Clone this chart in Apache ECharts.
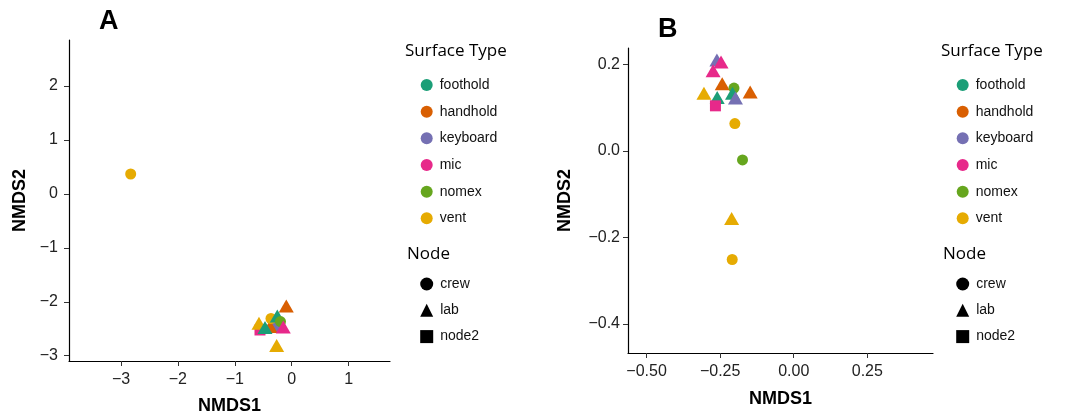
<!DOCTYPE html>
<html><head><meta charset="utf-8">
<script src="https://cdn.jsdelivr.net/npm/echarts@6/dist/echarts.min.js"></script>
<style>html,body{margin:0;padding:0;background:#fff}#c{width:1070px;height:413px}</style>
</head><body><div id="c"></div>
<script>
// ---- categories ----
const surfaceTypes = ['foothold', 'handhold', 'keyboard', 'mic', 'nomex', 'vent'];
const nodeTypes = ['crew', 'lab', 'node2'];

// ---- panel A (NMDS with outlier) ----
const aNMDS1 = [-2.83, -0.30, -0.20, -0.38, -0.095, -0.557, -0.575, -0.364, -0.253, -0.197, -0.469, -0.148, -0.264];
const aNMDS2 = [0.369, -2.40, -2.44, -2.458, -2.078, -2.523, -2.399, -2.31, -2.264, -2.366, -2.477, -2.468, -2.811];
const aSurface = ['vent', 'keyboard', 'keyboard', 'handhold', 'handhold', 'mic', 'vent', 'vent', 'foothold', 'nomex', 'foothold', 'mic', 'vent'];
const aNode = ['crew', 'lab', 'lab', 'lab', 'lab', 'node2', 'lab', 'crew', 'lab', 'crew', 'lab', 'lab', 'lab'];

// ---- panel B ----
const bNMDS1 = [-0.261, -0.247, -0.274, -0.243, -0.203, -0.148, -0.305, -0.260, -0.208, -0.198, -0.266, -0.200, -0.174, -0.211, -0.209];
const bNMDS2 = [0.210, 0.205, 0.185, 0.155, 0.145, 0.136, 0.133, 0.123, 0.133, 0.122, 0.104, 0.063, -0.021, -0.156, -0.251];
const bSurface = ['keyboard', 'mic', 'mic', 'handhold', 'nomex', 'handhold', 'vent', 'foothold', 'foothold', 'keyboard', 'mic', 'vent', 'nomex', 'vent', 'vent'];
const bNode = ['lab', 'lab', 'lab', 'lab', 'crew', 'lab', 'lab', 'lab', 'lab', 'lab', 'node2', 'crew', 'crew', 'lab', 'crew'];

// ---- tick labels ----
const aTicksX = [-3, -2, -1, 0, 1];
const aTicksY = [-3, -2, -1, 0, 1, 2];
const bTicksX = [-0.5, -0.25, 0, 0.25];
const bTicksY = [-0.4, -0.2, 0, 0.2];

// ---- styles ----
const palette = {foothold: '#1B9E77', handhold: '#D95F02', keyboard: '#7570B3', mic: '#E7298A', nomex: '#66A61E', vent: '#E6AB02'};
const nodeSymbol = {crew: 'circle', lab: 'triangle', node2: 'rect'};
const nodeSize = {crew: 11, lab: [15, 13], node2: 11};
const FONT = 'Liberation Sans';

function fmt(d) {
  return v => (v < 0 ? '\u2212' : '') + Math.abs(v).toFixed(d);
}
function points(xs, ys, surf, node) {
  return xs.map((x, i) => ({
    value: [x, ys[i]],
    symbol: nodeSymbol[node[i]],
    symbolSize: nodeSize[node[i]],
    itemStyle: {color: palette[surf[i]], opacity: 1}
  }));
}
function xAxisCfg(idx, min, max, ticks, dec, gap) {
  return {
    type: 'value', gridIndex: idx, min: min, max: max,
    name: 'NMDS1', nameLocation: 'middle', nameGap: gap,
    nameTextStyle: {fontFamily: FONT, fontWeight: 'bold', fontSize: 18, color: '#000'},
    splitLine: {show: false},
    axisLine: {onZero: false, lineStyle: {color: '#000', width: 1.2}},
    axisTick: {customValues: ticks, length: 5, lineStyle: {color: '#333', width: 1}},
    axisLabel: {customValues: ticks, formatter: fmt(dec), fontFamily: FONT, fontSize: 16, color: '#222', margin: 11}
  };
}
function yAxisCfg(idx, min, max, ticks, dec, gap, margin) {
  return {
    type: 'value', gridIndex: idx, min: min, max: max,
    name: 'NMDS2', nameLocation: 'middle', nameGap: gap,
    nameTextStyle: {fontFamily: FONT, fontWeight: 'bold', fontSize: 18, color: '#000'},
    splitLine: {show: false},
    axisLine: {onZero: false, lineStyle: {color: '#000', width: 1.2}},
    axisTick: {customValues: ticks, length: 5, lineStyle: {color: '#333', width: 1}},
    axisLabel: {customValues: ticks, formatter: fmt(dec), fontFamily: FONT, fontSize: 16, color: '#222', margin: margin}
  };
}

const dummy = surfaceTypes.map(s => ({
  name: s, type: 'scatter', xAxisIndex: 0, yAxisIndex: 0, data: [],
  symbol: 'circle', itemStyle: {color: palette[s], opacity: 1}
})).concat(nodeTypes.map(n => ({
  name: n, type: 'scatter', xAxisIndex: 0, yAxisIndex: 0, data: [],
  symbol: nodeSymbol[n], itemStyle: {color: '#000', opacity: 1}
})));

function legends(dx) {
  return [{
    orient: 'vertical', left: 415.7 + dx, top: 72, itemWidth: 12, itemHeight: 12, itemGap: 10.67,
    selectedMode: false, icon: 'circle',
    data: surfaceTypes.map(s => ({name: s, icon: 'circle', itemStyle: {color: palette[s], opacity: 1}})),
    textStyle: {fontFamily: FONT, fontSize: 14, color: '#111', lineHeight: 16, padding: [0, 0, 0, 2]}
  }, {
    orient: 'vertical', left: 415.2 + dx, top: 271, itemWidth: 13, itemHeight: 13, itemGap: 10.3,
    selectedMode: false,
    data: nodeTypes.map(n => ({name: n, icon: nodeSymbol[n], itemStyle: {color: '#000', opacity: 1}})),
    textStyle: {fontFamily: FONT, fontSize: 14, color: '#111', lineHeight: 16, padding: [0, 0, 0, 2]}
  }];
}

const chart = echarts.init(document.getElementById('c'), null, {renderer: 'canvas'});
chart.setOption({
  backgroundColor: '#fff',
  animation: false,
  title: [
    {text: 'A', left: 99, top: 8, padding: 0, textStyle: {fontFamily: FONT, fontWeight: 'bold', fontSize: 27, color: '#000'}},
    {text: 'B', left: 658, top: 16, padding: 0, textStyle: {fontFamily: FONT, fontWeight: 'bold', fontSize: 27, color: '#000'}},
    {text: 'Surface Type', left: 405, top: 43, padding: 0, textStyle: {fontFamily: 'Open Sans', fontWeight: 'normal', fontSize: 17, color: '#000'}},
    {text: 'Node', left: 407, top: 246, padding: 0, textStyle: {fontFamily: 'Open Sans', fontWeight: 'normal', fontSize: 17, color: '#000'}},
    {text: 'Surface Type', left: 941, top: 43, padding: 0, textStyle: {fontFamily: 'Open Sans', fontWeight: 'normal', fontSize: 17, color: '#000'}},
    {text: 'Node', left: 943, top: 246, padding: 0, textStyle: {fontFamily: 'Open Sans', fontWeight: 'normal', fontSize: 17, color: '#000'}}
  ],
  legend: legends(0).concat(legends(536)),
  grid: [
    {left: 69, top: 40, width: 321, height: 321, outerBoundsMode: 'none', containLabel: false},
    {left: 628, top: 48, width: 305, height: 305, outerBoundsMode: 'none', containLabel: false}
  ],
  xAxis: [
    xAxisCfg(0, -3.914, 1.728, aTicksX, 0, 36),
    xAxisCfg(1, -0.563, 0.473, bTicksX, 2, 37)
  ],
  yAxis: [
    yAxisCfg(0, -3.098, 2.853, aTicksY, 0, 40, 11),
    yAxisCfg(1, -0.467, 0.2376, bTicksY, 1, 54, 8)
  ],
  series: [
    {type: 'scatter', name: 'panelA', xAxisIndex: 0, yAxisIndex: 0, itemStyle: {opacity: 1}, data: points(aNMDS1, aNMDS2, aSurface, aNode)},
    {type: 'scatter', name: 'panelB', xAxisIndex: 1, yAxisIndex: 1, itemStyle: {opacity: 1}, data: points(bNMDS1, bNMDS2, bSurface, bNode)}
  ].concat(dummy)
});
</script></body></html>
